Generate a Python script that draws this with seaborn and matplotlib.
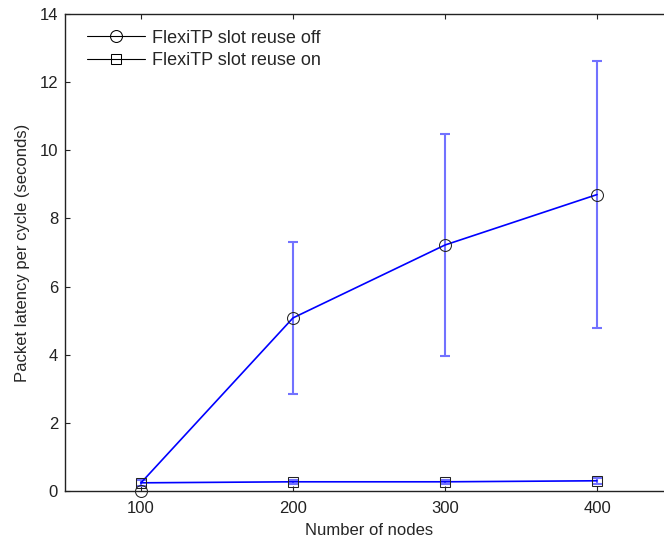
import matplotlib
matplotlib.use("Agg")
import matplotlib.pyplot as plt
import seaborn as sns
import pandas as pd
import numpy as np
from matplotlib.lines import Line2D

nodes = [100, 200, 300, 400]
off_line = [0.24, 5.08, 7.22, 8.70]
off_marker = [0.0, 5.08, 7.22, 8.70]
off_low = [0.0, 2.86, 3.96, 4.78]
off_high = [0.0, 7.31, 10.47, 12.62]
on_mean = [0.24, 0.27, 0.27, 0.30]
on_low = [0.16, 0.21, 0.21, 0.22]
on_high = [0.32, 0.33, 0.33, 0.38]

sns.set_style("white")
plt.rcParams['font.family'] = ['Liberation Sans', 'DejaVu Sans']

fig = plt.figure(figsize=(6.64, 5.41), dpi=100)
ax = fig.add_axes([65/664, 50/541, (673-65)/664, (491-14)/541])

df = pd.DataFrame({"nodes": nodes * 2,
                   "latency": off_line + on_mean,
                   "series": ["off"] * 4 + ["on"] * 4})

blue = "#0000ff"
ebcolor = "#7272ff"

for mean, lo, hi in [(off_line, off_low, off_high), (on_mean, on_low, on_high)]:
    m = np.array(mean); l = np.array(lo); h = np.array(hi)
    ax.errorbar(nodes[1:], m[1:], yerr=[(m - l)[1:], (h - m)[1:]], fmt="none", ecolor=ebcolor,
                elinewidth=1.5, capsize=3.4, capthick=1.5, zorder=2)
m = np.array(on_mean)
ax.errorbar(nodes[:1], m[:1], yerr=[(m - np.array(on_low))[:1], (np.array(on_high) - m)[:1]],
            fmt="none", ecolor=ebcolor, elinewidth=1.5, capsize=3.4, capthick=1.5, zorder=2)

sns.lineplot(data=df[df.series == "off"], x="nodes", y="latency", ax=ax,
             color=blue, linewidth=1.2, legend=False, zorder=3)
sns.lineplot(data=df[df.series == "on"], x="nodes", y="latency", ax=ax,
             color=blue, linewidth=1.2, legend=False, zorder=3)
ax.plot(nodes, off_marker, linestyle="none", marker="o", markersize=8.6,
        markerfacecolor="none", markeredgecolor="#222222", markeredgewidth=0.75,
        zorder=4, clip_on=False)
ax.plot(nodes, on_mean, linestyle="none", marker="s", markersize=6.5,
        markerfacecolor="none", markeredgecolor="#222222", markeredgewidth=0.75, zorder=4)

ax.set_xlim(50, 450)
ax.set_ylim(0, 14)
ax.set_xticks(nodes)
ax.set_yticks([0, 2, 4, 6, 8, 10, 12, 14])
ax.tick_params(direction="in", length=3.8, width=0.8, labelsize=12,
               top=True, right=True, bottom=True, left=True, colors="#222222")
ax.tick_params(axis="x", pad=7.5)
ax.tick_params(axis="y", pad=5)
for s in ax.spines.values():
    s.set_color("#222222")
    s.set_linewidth(1.0)
ax.set_xlabel("Number of nodes", fontsize=12, labelpad=5)
ax.set_ylabel("Packet latency per cycle (seconds)", fontsize=12, labelpad=7)

handles = [Line2D([], [], color="black", linewidth=0.8, marker="o", markersize=8.6,
                  markerfacecolor="none", markeredgecolor="black", markeredgewidth=0.75),
           Line2D([], [], color="black", linewidth=0.8, marker="s", markersize=6.5,
                  markerfacecolor="none", markeredgecolor="black", markeredgewidth=0.75)]
ax.legend(handles, ["FlexiTP slot reuse off", "FlexiTP slot reuse on"],
          loc="upper left", frameon=False, fontsize=13, handlelength=3.2,
          handletextpad=0.4, labelspacing=0.3, borderaxespad=0, borderpad=0.4,
          bbox_to_anchor=(0.025, 0.982))

fig.savefig("out.png", dpi=100)
